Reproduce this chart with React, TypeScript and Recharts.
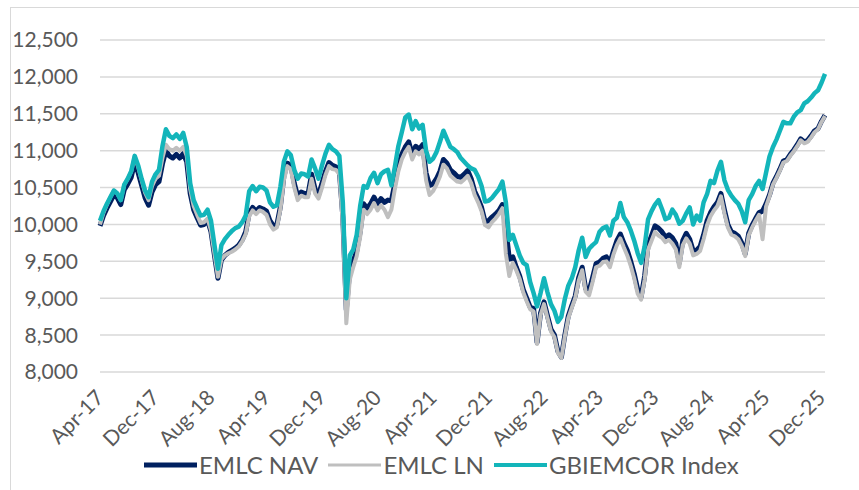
import React from 'react';
import { LineChart, Line, XAxis, YAxis, CartesianGrid, Legend } from 'recharts';

// Semi-monthly observations starting Apr-2017 (t = months since Apr-17)
const tickLabels = ['Apr-17', 'Dec-17', 'Aug-18', 'Apr-19', 'Dec-19', 'Aug-20', 'Apr-21', 'Dec-21', 'Aug-22', 'Apr-23', 'Dec-23', 'Aug-24', 'Apr-25', 'Dec-25'];
const tickMonths = [0, 8, 16, 24, 32, 40, 48, 56, 64, 72, 80, 88, 96, 104];
const yTicks = [8000, 8500, 9000, 9500, 10000, 10500, 11000, 11500, 12000, 12500];

const gbi = [
  10050, 10180, 10280, 10370, 10460, 10420, 10330, 10540, 10620, 10720,
  10930, 10800, 10620, 10460, 10370, 10580, 10680, 10740, 11060, 11290,
  11200, 11170, 11220, 11160, 11240, 11050, 10560, 10330, 10220, 10120,
  10130, 10200, 10050, 9720, 9400, 9720, 9800, 9860, 9910, 9950,
  9970, 10030, 10120, 10450, 10520, 10450, 10510, 10500, 10460, 10300,
  10240, 10260, 10510, 10850, 10990, 10940, 10740, 10620, 10690, 10680,
  10650, 10880, 10760, 10620, 10800, 10960, 11080, 11020, 10990, 10930,
  10300, 9000, 9580, 9660, 9860, 10250, 10520, 10500, 10630, 10700,
  10560, 10680, 10720, 10740, 10530, 10780, 11060, 11250, 11450, 11490,
  11290, 11400, 11300, 11350, 11000, 10850, 10890, 10980, 11120, 11270,
  11160, 11050, 11020, 10980, 10900, 10850, 10800, 10760, 10740, 10650,
  10520, 10310, 10320, 10360, 10420, 10480, 10580, 10300, 9790, 9860,
  9720, 9580, 9480, 9450, 9220, 9070, 8890, 9070, 9270, 9080,
  8920, 8830, 8680, 8750, 8990, 9170, 9270, 9420, 9650, 9820,
  9560, 9670, 9720, 9760, 9900, 9950, 9970, 9850, 10050, 10090,
  10290, 10100, 10030, 9920, 9780, 9610, 9480, 9700, 10070, 10180,
  10270, 10330, 10210, 10070, 10090, 10200, 10130, 10010, 10050, 10150,
  10230, 10000, 10120, 10050, 10300, 10410, 10590, 10560, 10730, 10850,
  10600, 10470, 10390, 10330, 10280, 10180, 10030, 10330, 10410, 10520,
  10590, 10480, 10700, 10920, 11050, 11150, 11270, 11390, 11370, 11370,
  11460, 11520, 11550, 11640, 11670, 11720, 11780, 11820, 11920, 12040,
];

const nav = [
  9980, 10120, 10220, 10310, 10400, 10360, 10270, 10470, 10550, 10640,
  10840, 10700, 10530, 10360, 10260, 10440, 10540, 10580, 10820, 11000,
  10930, 10900, 10950, 10900, 10960, 10850, 10420, 10200, 10090, 9990,
  10000, 10060, 9900, 9580, 9270, 9520, 9580, 9620, 9650, 9680,
  9720, 9790, 9900, 10150, 10230, 10180, 10230, 10210, 10180, 10050,
  9980, 10000, 10240, 10650, 10830, 10800, 10560, 10380, 10440, 10420,
  10420, 10680, 10480, 10400, 10560, 10720, 10840, 10800, 10780, 10720,
  10100, 8840, 9380, 9500, 9640, 9900, 10280, 10220, 10280, 10370,
  10280, 10350, 10300, 10330, 10320, 10560, 10800, 10950, 11050, 11120,
  10950, 11060, 11020, 11080, 10700, 10530, 10550, 10620, 10720, 10880,
  10830, 10740, 10700, 10650, 10640, 10680, 10730, 10620, 10450, 10350,
  10230, 10040, 10050, 10100, 10140, 10190, 10270, 9950, 9530, 9560,
  9420, 9300, 9120, 9000, 8880, 8860, 8400, 8800, 8950, 8760,
  8580, 8500, 8280, 8200, 8500, 8760, 8900, 9030, 9280, 9420,
  9130, 9100, 9280, 9470, 9490, 9540, 9560, 9480, 9640, 9780,
  9870, 9750, 9650, 9500, 9330, 9120, 9020, 9300, 9720, 9850,
  9980, 9950, 9900, 9830, 9860, 9820, 9740, 9480, 9780, 9880,
  9800, 9640, 9650, 9700, 9860, 10050, 10160, 10240, 10300, 10420,
  10200, 10000, 9900, 9880, 9840, 9750, 9600, 9880, 9990, 10080,
  10160, 10180, 10280, 10400, 10560, 10650, 10750, 10860, 10880, 10950,
  11010, 11080, 11160, 11120, 11140, 11200, 11270, 11300, 11400, 11480,
];

const ln = [
  10000, 10160, 10270, 10370, 10460, 10420, 10330, 10540, 10620, 10720,
  10920, 10780, 10600, 10430, 10330, 10520, 10620, 10660, 10900, 11080,
  11020, 11000, 11040, 11000, 11050, 10930, 10480, 10250, 10130, 10020,
  10030, 10080, 9920, 9600, 9290, 9530, 9580, 9610, 9630, 9660,
  9700, 9770, 9870, 10110, 10190, 10140, 10190, 10170, 10130, 10000,
  9930, 9960, 10200, 10600, 10790, 10750, 10500, 10330, 10390, 10370,
  10370, 10620, 10420, 10350, 10500, 10670, 10790, 10750, 10740, 10680,
  10000, 8660, 9250, 9420, 9570, 9830, 10200, 10140, 10200, 10290,
  10190, 10260, 10200, 10100, 10200, 10480, 10720, 10880, 10980, 11050,
  10880, 10990, 10950, 11000, 10600, 10400, 10450, 10540, 10650, 10810,
  10760, 10660, 10620, 10580, 10570, 10610, 10660, 10560, 10400, 10300,
  10180, 9990, 9960, 10030, 10080, 10140, 10220, 9600, 9300, 9480,
  9380, 9260, 9080, 8960, 8850, 8820, 8380, 8770, 8920, 8730,
  8550, 8470, 8260, 8190, 8480, 8730, 8870, 9000, 9240, 9380,
  9090, 9040, 9220, 9420, 9440, 9490, 9500, 9420, 9590, 9720,
  9810, 9690, 9580, 9440, 9270, 9060, 8980, 9250, 9660, 9780,
  9900, 9850, 9820, 9760, 9790, 9740, 9660, 9420, 9720, 9810,
  9740, 9580, 9600, 9640, 9800, 9990, 10110, 10190, 10250, 10380,
  10150, 9960, 9860, 9840, 9800, 9710, 9570, 9850, 9960, 10050,
  10130, 9800, 10240, 10380, 10540, 10630, 10730, 10840, 10860, 10930,
  10990, 11060, 11140, 11100, 11120, 11180, 11250, 11290, 11390, 11470,
];

const seriesNames = ['EMLC NAV', 'EMLC LN', 'GBIEMCOR Index'];
const seriesColors = ['#002060', '#BFBFBF', '#13B5BA'];

const data = gbi.map((g, i) => ({ t: i / 2, nav: nav[i], ln: ln[i], gbi: g }));

const FONT = 'Lato, "Open Sans", sans-serif';
const TEXT = '#595959';

const XTick = (props: any) => {
  const { x, y, payload } = props;
  const idx = tickMonths.indexOf(payload.value);
  const ax = x + 5;
  const ay = y + 27;
  return (
    <text x={ax} y={ay} transform={`rotate(-45 ${ax} ${ay})`} textAnchor="end" fill={TEXT} fontSize={21} fontFamily={FONT}>
      {tickLabels[idx]}
    </text>
  );
};

const LegendContent = () => (
  <div style={{ display: 'flex', alignItems: 'center', paddingLeft: 143, fontFamily: FONT, fontSize: 24, color: TEXT, lineHeight: '28px' }}>
    {seriesNames.map((n, i) => (
      <div key={n} style={{ display: 'flex', alignItems: 'center', marginRight: 9 }}>
        <svg width={55} height={28}>
          <line x1={1} x2={54} y1={14} y2={14} stroke={seriesColors[i]} strokeWidth={i === 0 ? 5 : i === 1 ? 3 : 4} />
        </svg>
        <span style={{ marginLeft: 1 }}>{n}</span>
      </div>
    ))}
  </div>
);

export default function App() {
  return (
    <div style={{ position: 'absolute', left: 0, top: 0, width: 859, height: 490, overflow: 'hidden', background: '#fff' }}>
      <div style={{ position: 'absolute', left: 10, top: 7, width: 900, height: 600, border: '1.5px solid #D9D9D9' }} />
      <div style={{ position: 'absolute', left: 0, top: 0 }}>
        <LineChart width={859} height={490} data={data} margin={{ top: 40, right: 34, bottom: 0, left: 0 }}>
          <CartesianGrid vertical={false} stroke="#D9D9D9" strokeWidth={1.5} />
          <XAxis
            dataKey="t"
            type="number"
            domain={[0, 104.5]}
            ticks={tickMonths}
            interval={0}
            height={118}
            tickSize={0}
            tickMargin={0}
            axisLine={false}
            tickLine={false}
            tick={<XTick />}
          />
          <YAxis
            domain={[8000, 12500]}
            ticks={yTicks}
            width={100}
            tickSize={0}
            tickMargin={22}
            axisLine={false}
            tickLine={false}
            tickFormatter={(v: number) => v.toLocaleString('en-US')}
            tick={{ fill: TEXT, fontSize: 21, fontFamily: FONT }}
            interval={0}
          />
          <Legend
            verticalAlign="middle"
            align="center"
            layout="horizontal"
            wrapperStyle={{ top: 451, left: 0, width: 859 }}
            content={<LegendContent />}
          />
          <Line dataKey="nav" name={seriesNames[0]} stroke={seriesColors[0]} strokeWidth={5} dot={false} isAnimationActive={false} strokeLinejoin="round" />
          <Line dataKey="ln" name={seriesNames[1]} stroke={seriesColors[1]} strokeWidth={4} dot={false} isAnimationActive={false} strokeLinejoin="round" />
          <Line dataKey="gbi" name={seriesNames[2]} stroke={seriesColors[2]} strokeWidth={4.5} dot={false} isAnimationActive={false} strokeLinejoin="round" />
        </LineChart>
      </div>
    </div>
  );
}
